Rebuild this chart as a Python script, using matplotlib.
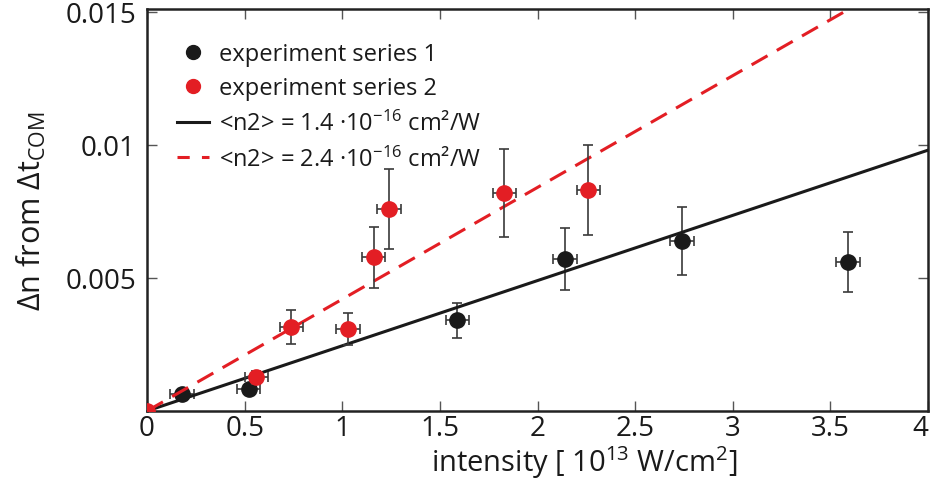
import matplotlib
matplotlib.use("Agg")
import matplotlib.pyplot as plt
from matplotlib.lines import Line2D
import numpy as np

plt.rcParams['font.family'] = ['Open Sans', 'DejaVu Sans']
plt.rcParams['mathtext.default'] = 'regular'
plt.rcParams['mathtext.fontset'] = 'custom'
plt.rcParams['mathtext.rm'] = 'Open Sans'

# experiment series 1
x1 = [0.18, 0.52, 1.59, 2.14, 2.74, 3.59]
y1 = [0.00064, 0.00082, 0.0034, 0.0057, 0.0064, 0.0056]
yerr1 = [0.0, 0.0, 0.00067, 0.00116, 0.00128, 0.00113]
xerr1 = [0.06, 0.06, 0.06, 0.06, 0.06, 0.06]

# experiment series 2
x2 = [0.0, 0.56, 0.74, 1.03, 1.16, 1.24, 1.83, 2.26]
y2 = [0.0, 0.00127, 0.00315, 0.00307, 0.00577, 0.0076, 0.0082, 0.00831]
yerr2 = [0.0, 0.00025, 0.00064, 0.0006, 0.00114, 0.0015, 0.00165, 0.0017]
xerr2 = [0.0, 0.06, 0.06, 0.06, 0.06, 0.06, 0.06, 0.06]

# linear fits through the origin
slope1 = 0.00245
slope2 = 0.0042
label1 = '<n2> = 1.4 ·10$^{-16}$ cm²/W'
label2 = '<n2> = 2.4 ·10$^{-16}$ cm²/W'

xticks = [0, 0.5, 1, 1.5, 2, 2.5, 3, 3.5, 4]
xticklabels = ['0', '0.5', '1', '1.5', '2', '2.5', '3', '3.5', '4']
yticks = [0.005, 0.01, 0.015]
yticklabels = ['0.005', '0.01', '0.015']

red = '#e31e24'
black = '#1a1a1a'
grey = '#3a3a3a'

fig = plt.figure(figsize=(9.34, 4.81), dpi=100)
ax = fig.add_axes([0.1574, 0.1435, 0.8362, 0.8355])

xfit = np.array([0, 4.0])
ax.plot(xfit, slope1 * xfit, color=black, lw=2.2, zorder=3)
ax.plot(xfit, slope2 * xfit, color=red, lw=2.2, ls=(0, (6, 3.5)), zorder=3)

ax.errorbar(x1, y1, yerr=yerr1, xerr=xerr1, fmt='o', color=black, ms=11,
            ecolor=grey, elinewidth=1.2, capsize=3.5, capthick=1.2, zorder=2)
ax.errorbar(x2, y2, yerr=yerr2, xerr=xerr2, fmt='o', color=red, ms=11,
            ecolor=grey, elinewidth=1.2, capsize=3.5, capthick=1.2, zorder=4)

ax.set_xlim(0, 4)
ax.set_ylim(0, 0.0151)
ax.set_xticks(xticks)
ax.set_xticklabels(xticklabels)
ax.set_yticks(yticks)
ax.set_yticklabels(yticklabels)
ax.tick_params(direction='in', top=True, right=True, length=7, width=1,
               labelsize=20, color='#555555', labelcolor='#1a1a1a')
ax.tick_params(axis='x', pad=2)
ax.tick_params(axis='y', pad=8)
ax.get_xticklabels()[-1].set_horizontalalignment('right')
for s in ax.spines.values():
    s.set_linewidth(1.8)
    s.set_color('#222222')

ax.set_xlabel('intensity [ 10$^{13}$ W/cm$^{2}$]', fontsize=21,
              color='#1a1a1a')
ax.xaxis.set_label_coords(0.56, -0.080)
ax.set_ylabel('Δn from Δt$_{COM}$', fontsize=22, labelpad=12, color='#1a1a1a')

handles = [
    Line2D([], [], ls='none', marker='o', ms=10, color=black),
    Line2D([], [], ls='none', marker='o', ms=10, color=red),
    Line2D([], [], color=black, lw=2.2),
    Line2D([], [], color=red, lw=2.2, ls=(0, (4, 4))),
]
labels = ['experiment series 1', 'experiment series 2', label1, label2]
ax.legend(handles, labels, loc='upper left', bbox_to_anchor=(0.038, 0.918),
          frameon=False, fontsize=17, handlelength=1.35, handletextpad=0.45,
          labelspacing=0.44, borderpad=0, borderaxespad=0,
          labelcolor='#1a1a1a')

fig.savefig('out.png', dpi=100)
